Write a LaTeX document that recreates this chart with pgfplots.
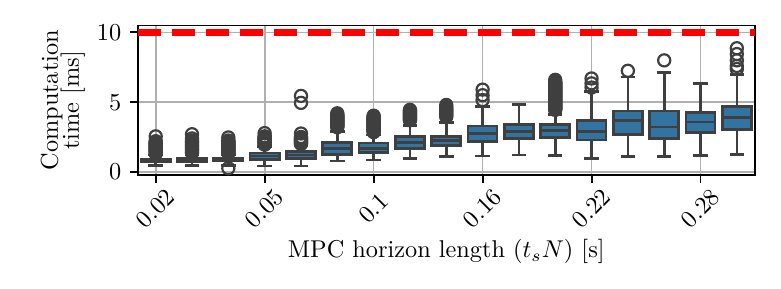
\documentclass[border=0pt]{standalone}
\usepackage{pgfplots}
\pgfplotsset{compat=1.18}
\usepgfplotslibrary{statistics}
\definecolor{boxblue}{HTML}{3274A1}
\definecolor{boxgray}{HTML}{3F3F3F}
\definecolor{gridgray}{HTML}{B0B0B0}
\pgfplotsset{
  mybox/.style={boxplot prepared={#1}, draw=boxgray, line width=1.1pt,
    mark=o, mark size=2.5pt, mark options={draw=boxgray, line width=0.9pt, solid},
    boxplot/every box/.style={fill=boxblue}},
}
\begin{document}
\begin{tikzpicture}
\begin{axis}[name=ax, scale only axis, width=254.1pt, height=61.5pt,
  xmin=-0.5, xmax=16.5, ymin=-0.22, ymax=10.5,
  xtick={0,3,6,9,12,15}, xticklabels={0.02,0.05,0.1,0.16,0.22,0.28},
  ytick={0,5,10},
  xtick pos=bottom, ytick pos=left, tick align=outside,
  major tick length=3.2pt,
  every tick/.style={black, line width=0.8pt},
  axis line style={line width=0.8pt},
  grid=major, major grid style={gridgray, line width=0.7pt},
  xticklabel style={yshift=-10.6pt, rotate=45, anchor=center},
  ylabel={Computation\\[-3.3pt]time [ms]}, ylabel style={align=center, yshift=-2pt},
  xlabel={MPC horizon length ($t_sN$) [s]}, xlabel style={yshift=4.1pt},
  boxplot/draw direction=y,
  boxplot/box extend=0.8, boxplot/whisker extend=0.4,
]
\addplot[mybox={draw position=0, lower whisker=0.45, lower quartile=0.7, median=0.78, upper quartile=0.87, upper whisker=1.2}]
  coordinates {(0,1.3) (0,1.35) (0,1.4) (0,1.45) (0,1.5) (0,1.55) (0,1.6) (0,1.65) (0,1.7) (0,1.75) (0,1.8) (0,1.85) (0,1.9) (0,1.95) (0,2.0) (0,2.05) (0,2.1) (0,2.15) (0,2.2) (0,2.55)};
\addplot[mybox={draw position=1, lower whisker=0.48, lower quartile=0.75, median=0.86, upper quartile=0.96, upper whisker=1.25}]
  coordinates {(0,1.35) (0,1.45) (0,1.55) (0,1.65) (0,1.75) (0,1.85) (0,1.95) (0,2.05) (0,2.15) (0,2.25) (0,2.4) (0,2.7)};
\addplot[mybox={draw position=2, lower whisker=0.45, lower quartile=0.77, median=0.87, upper quartile=0.96, upper whisker=1.25}]
  coordinates {(0,0.26) (0,1.35) (0,1.4) (0,1.45) (0,1.5) (0,1.55) (0,1.6) (0,1.65) (0,1.7) (0,1.75) (0,1.8) (0,1.85) (0,1.9) (0,1.95) (0,2.0) (0,2.05) (0,2.1) (0,2.15) (0,2.2) (0,2.25) (0,2.47)};
\addplot[mybox={draw position=3, lower whisker=0.43, lower quartile=0.87, median=1.13, upper quartile=1.36, upper whisker=1.8}]
  coordinates {(0,1.95) (0,2.0) (0,2.05) (0,2.1) (0,2.15) (0,2.2) (0,2.25) (0,2.3) (0,2.35) (0,2.4) (0,2.45) (0,2.5) (0,2.55) (0,2.78)};
\addplot[mybox={draw position=4, lower whisker=0.43, lower quartile=0.96, median=1.2, upper quartile=1.44, upper whisker=1.85}]
  coordinates {(0,2.0) (0,2.05) (0,2.1) (0,2.15) (0,2.2) (0,2.25) (0,2.3) (0,2.35) (0,2.4) (0,2.45) (0,2.5) (0,2.75) (0,4.95) (0,5.45)};
\addplot[mybox={draw position=5, lower whisker=0.79, lower quartile=1.27, median=1.70, upper quartile=2.13, upper whisker=2.9}]
  coordinates {(0,3.2) (0,3.25) (0,3.3) (0,3.35) (0,3.4) (0,3.45) (0,3.5) (0,3.55) (0,3.6) (0,3.65) (0,3.7) (0,3.75) (0,3.8) (0,3.85) (0,3.9) (0,3.95) (0,4.0) (0,4.05) (0,4.1) (0,4.2)};
\addplot[mybox={draw position=6, lower whisker=0.86, lower quartile=1.39, median=1.70, upper quartile=2.06, upper whisker=2.65}]
  coordinates {(0,2.85) (0,2.9) (0,2.95) (0,3.0) (0,3.05) (0,3.1) (0,3.15) (0,3.2) (0,3.25) (0,3.3) (0,3.35) (0,3.4) (0,3.45) (0,3.5) (0,3.55) (0,3.6) (0,3.65) (0,3.7) (0,3.75) (0,3.8) (0,3.85) (0,3.9) (0,3.95) (0,4.03)};
\addplot[mybox={draw position=7, lower whisker=0.98, lower quartile=1.68, median=2.11, upper quartile=2.56, upper whisker=3.35}]
  coordinates {(0,3.7) (0,3.75) (0,3.8) (0,3.85) (0,3.9) (0,3.95) (0,4.0) (0,4.05) (0,4.1) (0,4.15) (0,4.2) (0,4.25) (0,4.3) (0,4.35) (0,4.4) (0,4.45)};
\addplot[mybox={draw position=8, lower whisker=1.08, lower quartile=1.87, median=2.25, upper quartile=2.54, upper whisker=3.55}]
  coordinates {(0,3.95) (0,4.05) (0,4.15) (0,4.25) (0,4.35) (0,4.45) (0,4.55) (0,4.65) (0,4.8)};
\addplot[mybox={draw position=9, lower whisker=1.15, lower quartile=2.18, median=2.73, upper quartile=3.28, upper whisker=4.7}]
  coordinates {(0,5.15) (0,5.5) (0,5.9)};
\addplot[mybox={draw position=10, lower whisker=1.22, lower quartile=2.40, median=2.9, upper quartile=3.40, upper whisker=4.82}]
  coordinates {};
\addplot[mybox={draw position=11, lower whisker=1.18, lower quartile=2.47, median=2.95, upper quartile=3.40, upper whisker=4.1}]
  coordinates {(0,4.45) (0,4.5) (0,4.55) (0,4.6) (0,4.65) (0,4.7) (0,4.75) (0,4.8) (0,4.85) (0,4.9) (0,4.95) (0,5.0) (0,5.05) (0,5.1) (0,5.15) (0,5.2) (0,5.25) (0,5.3) (0,5.35) (0,5.4) (0,5.45) (0,5.5) (0,5.55) (0,5.6) (0,5.65) (0,5.7) (0,5.75) (0,5.8) (0,5.85) (0,5.9) (0,5.95) (0,6.0) (0,6.05) (0,6.1) (0,6.15) (0,6.2) (0,6.25) (0,6.3) (0,6.35) (0,6.4) (0,6.45) (0,6.6)};
\addplot[mybox={draw position=12, lower whisker=0.98, lower quartile=2.28, median=2.9, upper quartile=3.69, upper whisker=5.75}]
  coordinates {(0,6.05) (0,6.35) (0,6.7)};
\addplot[mybox={draw position=13, lower whisker=1.08, lower quartile=2.68, median=3.7, upper quartile=4.36, upper whisker=6.8}]
  coordinates {(0,7.25)};
\addplot[mybox={draw position=14, lower whisker=1.09, lower quartile=2.41, median=3.23, upper quartile=4.36, upper whisker=7.15}]
  coordinates {(0,8.0)};
\addplot[mybox={draw position=15, lower whisker=1.18, lower quartile=2.84, median=3.57, upper quartile=4.25, upper whisker=6.35}]
  coordinates {};
\addplot[mybox={draw position=16, lower whisker=1.27, lower quartile=3.06, median=3.89, upper quartile=4.71, upper whisker=7.0}]
  coordinates {(0,7.38) (0,7.6) (0,8.0) (0,8.45) (0,8.87)};
\addplot[red, line width=2.6pt, dash pattern=on 9.6pt off 4.4pt, line cap=butt] coordinates {(-0.5,10) (16.5,10)};
\end{axis}
\path ([shift={(-56.6pt,-46.9pt)}]ax.south west) rectangle ([shift={(10.7pt,10.5pt)}]ax.north east);
\end{tikzpicture}
\end{document}
